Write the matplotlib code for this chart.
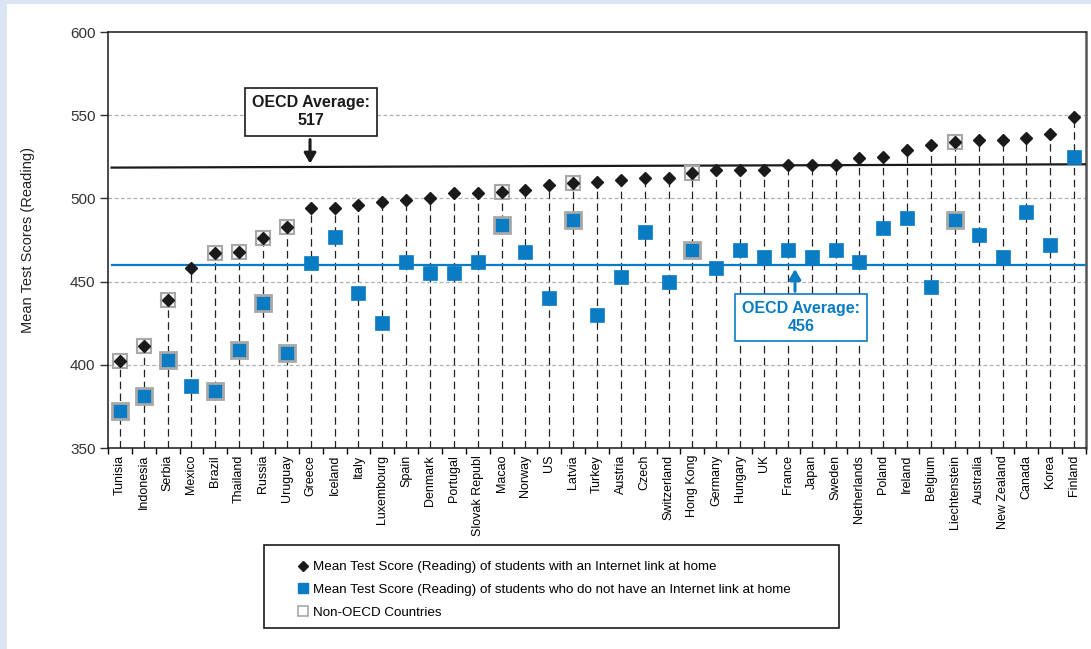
import matplotlib
matplotlib.use("Agg")
import matplotlib.pyplot as plt
from matplotlib.lines import Line2D
from matplotlib.patches import Rectangle
import numpy as np

plt.rcParams['font.family'] = ['Liberation Sans Narrow', 'Liberation Sans', 'DejaVu Sans']

# Countries, sorted by score of students with internet at home
countries = ["Tunisia", "Indonesia", "Serbia", "Mexico", "Brazil", "Thailand", "Russia",
             "Uruguay", "Greece", "Iceland", "Italy", "Luxembourg", "Spain", "Denmark",
             "Portugal", "Slovak Republ", "Macao", "Norway", "US", "Latvia", "Turkey",
             "Austria", "Czech", "Switzerland", "Hong Kong", "Germany", "Hungary", "UK",
             "France", "Japan", "Sweden", "Netherlands", "Poland", "Ireland", "Belgium",
             "Liechtenstein", "Australia", "New Zealand", "Canada", "Korea", "Finland"]

with_internet = [402, 411, 439, 458, 467, 468, 476, 483, 494, 494, 496, 498, 499, 500,
                 503, 503, 504, 505, 508, 509, 510, 511, 512, 512, 515, 517, 517, 517,
                 520, 520, 520, 524, 525, 529, 532, 534, 535, 535, 536, 539, 549]

without_internet = [372, 381, 403, 387, 384, 409, 437, 407, 461, 477, 443, 425, 462, 455,
                    455, 462, 484, 468, 440, 487, 430, 453, 480, 450, 469, 458, 469, 465,
                    469, 465, 469, 462, 482, 488, 447, 487, 478, 465, 492, 472, 525]

non_oecd = ["Tunisia", "Indonesia", "Serbia", "Brazil", "Thailand", "Russia", "Uruguay",
            "Macao", "Latvia", "Hong Kong", "Liechtenstein"]

# average lines (as drawn) and the labels in the boxes
avg_with_line = [518.5, 520.5]
avg_without_line = [460, 460]
avg_with_label = 517
avg_without_label = 456

blue = "#0a7cc4"
frame_gray = "#a8a8a8"

fig = plt.figure(figsize=(10.91, 6.49), dpi=100)
fig.patch.set_facecolor("#dbe5f3")
fig.patches.append(Rectangle((7 / 1091, 0), 1, 645 / 649, transform=fig.transFigure,
                             facecolor="white", edgecolor="none", zorder=-5))

ax = fig.add_axes([108 / 1091, 1 - 448 / 649, 978 / 1091, 416 / 649])
ax.set_zorder(2)
ax.set_facecolor("white")

n = len(countries)
x = np.arange(n) + 0.5

ax.set_xlim(0, n)
ax.set_ylim(350, 600)

# grid
for yv in [400, 450, 500, 550]:
    ax.axhline(yv, color="#b0b0b0", lw=0.9, ls=(0, (3, 2)), zorder=1)

# drop lines
ax.vlines(x, 350, with_internet, colors="#222222", lw=0.9, linestyles=(0, (6, 3.5)), zorder=2)

# average lines
ax.plot([0.15, n], avg_with_line, color="#1a1a1a", lw=1.6, zorder=3)
ax.plot([0.15, n], avg_without_line, color=blue, lw=1.6, zorder=3)

# non-OECD frames
mask = np.array([c in non_oecd for c in countries])
ax.plot(x[mask], np.array(with_internet)[mask], ls="none", marker="s", ms=10,
        mfc="#f4f4f4", mec=frame_gray, mew=1.5, zorder=4)
ax.plot(x[mask], np.array(without_internet)[mask], ls="none", marker="s", ms=11.5,
        mfc=blue, mec=frame_gray, mew=2, zorder=4)

ax.plot(x, with_internet, ls="none", marker="D", ms=6.5, color="#1a1a1a", zorder=5)
ax.plot(x[~mask], np.array(without_internet)[~mask], ls="none", marker="s", ms=9.5,
        mfc=blue, mec=blue, mew=0.5, zorder=5)

# annotation boxes
ax.text(8.5, 552, "OECD Average:\n%d" % avg_with_label, ha="center", va="center",
        fontsize=11.5, fontweight="bold", color="#1a1a1a", linespacing=1.25, zorder=6,
        bbox=dict(boxstyle="square,pad=0.45", fc="white", ec="#1a1a1a", lw=1.2))
ax.annotate("", xy=(8.47, avg_with_line[0] + 0.8), xytext=(8.47, 537),
            arrowprops=dict(arrowstyle="-|>,head_width=0.35,head_length=0.6",
                            color="#1a1a1a", lw=2.2), zorder=6)

ax.text(29.05, 428.5, "OECD Average:\n%d" % avg_without_label, ha="center", va="center",
        fontsize=11.5, fontweight="bold", color=blue, linespacing=1.25, zorder=6,
        bbox=dict(boxstyle="square,pad=0.45", fc="white", ec=blue, lw=1.2))
ax.annotate("", xy=(28.8, avg_without_line[0] - 0.8), xytext=(28.8, 442.5),
            arrowprops=dict(arrowstyle="-|>,head_width=0.35,head_length=0.6",
                            color=blue, lw=2.2), zorder=6)

# axes styling
ax.set_yticks([350, 400, 450, 500, 550, 600])
ax.tick_params(axis="y", labelsize=11, length=6, width=1, direction="out", colors="#333333",
               pad=3)
ax.set_xticks(np.arange(n + 1), minor=True)
ax.set_xticks(x)
ax.set_xticklabels(countries, rotation=90, fontsize=9, va="top", ha="center")
ax.tick_params(axis="x", which="major", length=0, pad=5)
ax.tick_params(axis="x", which="minor", length=4, width=1, direction="out")
for s in ax.spines.values():
    s.set_color("#1a1a1a")
    s.set_linewidth(1.1)
ax.spines["right"].set_color("#555555")
ax.spines["right"].set_linewidth(1.8)

fig.text(28 / 1091, 1 - 240 / 649, "Mean Test Scores (Reading)", rotation=90,
         ha="center", va="center", fontsize=10.5, color="#222222")

# legend box
fig.patches.append(Rectangle((264 / 1091, 1 - 628 / 649), 575 / 1091, 83 / 649,
                             transform=fig.transFigure, facecolor="white",
                             edgecolor="#1a1a1a", lw=1.2, zorder=1))
handles = [
    Line2D([], [], ls="none", marker="D", ms=5.5, color="#1a1a1a"),
    Line2D([], [], ls="none", marker="s", ms=7.5, color=blue),
    Line2D([], [], ls="none", marker="s", ms=7.5, mfc="white", mec=frame_gray, mew=1.2),
]
labels = ["Mean Test Score (Reading) of students with an Internet link at home",
          "Mean Test Score (Reading) of students who do not have an Internet link at home",
          "Non-OECD Countries"]
leg = fig.legend(handles, labels, loc="upper left", bbox_to_anchor=(298 / 1091, 1 - 561 / 649),
                 frameon=False, fontsize=9.6, handlelength=0.8, handletextpad=0.35,
                 labelspacing=0.78, borderpad=0, borderaxespad=0)
leg.set_zorder(3)

fig.savefig("out.png", dpi=100, facecolor=fig.get_facecolor())
